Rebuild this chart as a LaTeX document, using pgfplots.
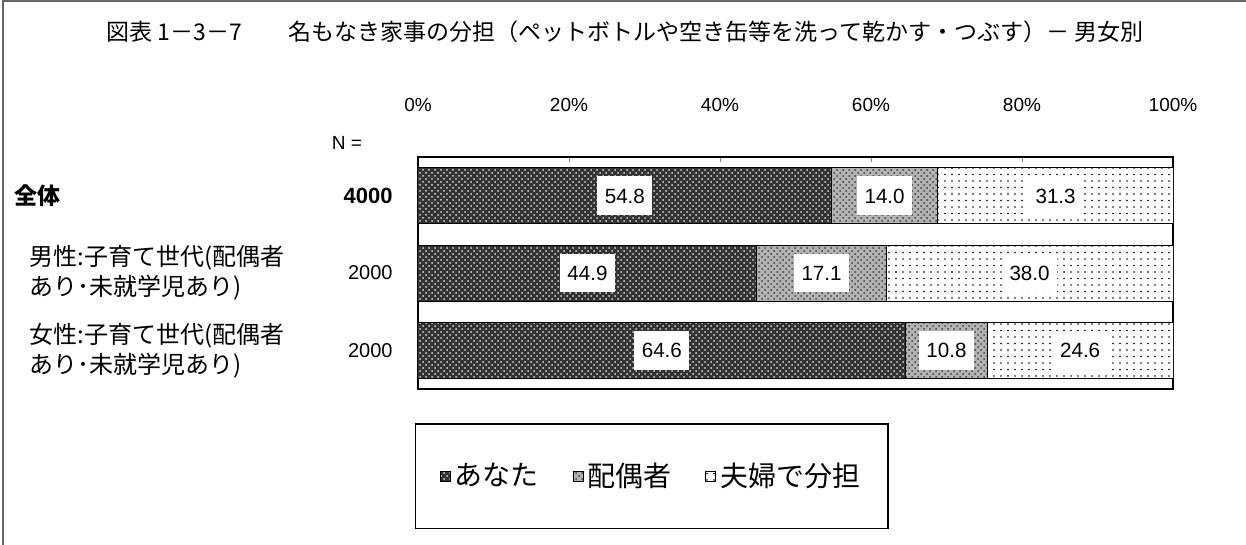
\documentclass[border=0pt]{standalone}
\usepackage{pgfplots}
\pgfplotsset{compat=1.18}
\usepackage{pgfplotstable}
\usepackage{fontspec}
\setmainfont{Liberation Sans}
\newfontfamily\jp{Noto Sans CJK JP}
\usetikzlibrary{patterns}

\pgfdeclarepatternformonly{sparsedots}{\pgfqpoint{-1pt}{-1pt}}{\pgfqpoint{1pt}{1pt}}{\pgfqpoint{3.5pt}{3.25pt}}{%
  \pgfpathcircle{\pgfqpoint{0pt}{0pt}}{0.45pt}\pgfusepath{fill}}

\pgfplotstableread{
y a b c ca cb cc
0 54.8 14.0 31.3 27.4 61.8 84.45
1 44.9 17.1 38.0 22.45 53.45 81.0
2 64.6 10.8 24.6 32.3 70.0 87.7
}\data

\newcommand{\rowlab}[4]{\parbox[c]{150pt}{\leftskip=#1\jp\fontsize{#2}{15}\selectfont #3}\parbox[c]{39pt}{\raggedleft #4}}

\begin{document}
\begin{tikzpicture}
\path[use as bounding box] (-209pt,-78pt) rectangle (414pt,194.5pt);
\draw[line width=1pt, black!60] (-207.5pt,-78pt) -- (-207.5pt,194pt) -- (414pt,194pt);

\begin{axis}[
  at={(0,0)}, anchor=south west,
  scale only axis, width=377.5pt, height=116pt,
  xbar stacked, bar width=28pt,
  xmin=0, xmax=100, ymin=-0.5, ymax=2.5, y dir=reverse,
  axis line style={black, line width=0.75pt},
  xtick={0,20,40,60,80,100},
  xticklabels={0\%,20\%,40\%,60\%,80\%,100\%},
  xticklabel pos=upper, xtick pos=upper, tick align=inside,
  major tick length=2.5pt,
  xtick style={black!50, line width=0.4pt},
  xticklabel style={font=\fontsize{9.5}{11}\selectfont, yshift=19pt},
  ytick={0,1,2},
  ytick style={draw=none},
  yticklabels={
    {\rowlab{0pt}{11.5}{\bfseries 全体}{\fontsize{11}{12}\selectfont\bfseries 4000}},
    {\rowlab{7.5pt}{12}{男性:子育て世代(配偶者\newline あり･未就学児あり)}{\fontsize{10}{12}\selectfont 2000}},
    {\rowlab{7.5pt}{12}{女性:子育て世代(配偶者\newline あり･未就学児あり)}{\fontsize{10}{12}\selectfont 2000}}},
  yticklabel style={anchor=east, inner sep=0pt, xshift=-12.5pt},
  legend columns=3,
  legend image code/.code={\draw[#1, line width=0.4pt] (0pt,-2.5pt) rectangle (5pt,2.5pt);},
  legend style={at={(0,0)}, anchor=north west, yshift=-17pt, xshift=-1.5pt,
    draw=black, line width=0.75pt, inner xsep=12pt, inner ysep=17.5pt,
    font=\jp\fontsize{14}{16}\selectfont,
    /tikz/every even column/.append style={column sep=15pt}},
]
\addplot[draw=black, line width=0.5pt, fill=black!80, postaction={pattern=crosshatch dots, pattern color=white!85!black}] table[x=a, y=y]{\data};
\addplot[draw=black, line width=0.5pt, fill=black!30, postaction={pattern=crosshatch dots, pattern color=black!75}] table[x=b, y=y]{\data};
\addplot[draw=black, line width=0.5pt, fill=white, postaction={pattern=sparsedots, pattern color=black}] table[x=c, y=y]{\data};
\legend{あなた,配偶者,夫婦で分担}
\end{axis}

\begin{axis}[
  at={(0,0)}, anchor=south west,
  scale only axis, width=377.5pt, height=116pt,
  xmin=0, xmax=100, ymin=-0.5, ymax=2.5, y dir=reverse,
  hide axis,
  nodes near coords, point meta=explicit symbolic,
  every node near coord/.style={anchor=center, fill=white, inner xsep=3.75pt, inner ysep=6pt, text height=7.4pt, text depth=0pt, font=\fontsize{10.3}{12}\selectfont, text=black},
]
\addplot[draw=none, mark=none] table[x=ca, y=y, meta=a]{\data};
\addplot[draw=none, mark=none] table[x=cb, y=y, meta=b]{\data};
\addplot[draw=none, mark=none] table[x=cc, y=y, meta=c]{\data};
\end{axis}

\node[font=\jp\fontsize{11.5}{13}\selectfont] at (103.5pt,178.5pt) {図表 1－3－7\hspace{2em}名もなき家事の分担（ペットボトルや空き缶等を洗って乾かす・つぶす）－ 男女別};
\node[font=\fontsize{9.5}{11}\selectfont] at (-35.5pt,123pt) {N =};
\end{tikzpicture}
\end{document}
